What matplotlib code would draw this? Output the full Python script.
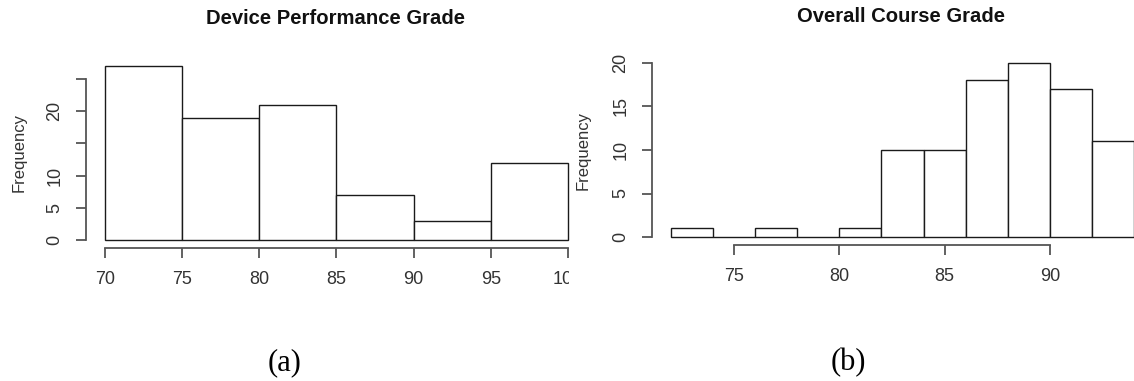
import numpy as np
import matplotlib
matplotlib.use("Agg")
import matplotlib.pyplot as plt
from matplotlib.patches import Rectangle

plt.rcParams["font.family"] = ["Liberation Sans", "DejaVu Sans"]

# (a) device performance grade histogram
device_edges = [70, 75, 80, 85, 90, 95, 100]
device_counts = [27, 19, 21, 7, 3, 12]
device_xticks = [70, 75, 80, 85, 90, 95, 100]
device_yticks = [0, 5, 10, 15, 20, 25]
device_ylabels = ["0", "5", "10", "", "20", ""]

# (b) overall course grade histogram
course_edges = [72, 74, 76, 78, 80, 82, 84, 86, 88, 90, 92, 94]
course_counts = [1, 0, 1, 0, 1, 10, 10, 18, 20, 17, 11]
course_xticks = [75, 80, 85, 90]
course_yticks = [0, 5, 10, 15, 20]

W, H = 1134, 381
fig = plt.figure(figsize=(W / 100, H / 100), dpi=100)

BAR_EDGE = "#1a1a1a"
AXIS_COL = "#555555"
TEXT_COL = "#333333"


def px_axes(left, top, width, height):
    # rectangle given in pixels from the top-left corner
    return fig.add_axes([left / W, (H - top - height) / H, width / W, height / H])


def r_style(ax, xticks, yticks, ylabels):
    for s in ["top", "right"]:
        ax.spines[s].set_visible(False)
    ax.spines["left"].set_position(("outward", 13.7))
    ax.spines["bottom"].set_position(("outward", 5.8))
    ax.spines["left"].set_bounds(yticks[0], yticks[-1])
    ax.spines["bottom"].set_bounds(xticks[0], xticks[-1])
    for s in ["left", "bottom"]:
        ax.spines[s].set_color(AXIS_COL)
        ax.spines[s].set_linewidth(1.3)
    ax.set_xticks(xticks)
    ax.set_xticklabels([str(t) for t in xticks])
    ax.set_yticks(yticks)
    ax.set_yticklabels(ylabels, rotation=90, va="center")
    ax.tick_params(length=7.2, width=1.3, color=AXIS_COL, labelcolor=TEXT_COL,
                   labelsize=13, pad=9)
    ax.set_ylabel("Frequency", fontsize=12, color=TEXT_COL)
    ax.set_facecolor("none")


def hist(ax, edges, counts):
    edges = np.asarray(edges)
    ax.bar(edges[:-1], counts, width=np.diff(edges), align="edge",
           facecolor="white", edgecolor=BAR_EDGE, linewidth=1.0, clip_on=False)


# left panel
ax1 = px_axes(105, 66, 463, 174)
hist(ax1, device_edges, device_counts)
ax1.set_xlim(70, 100)
ax1.set_ylim(0, 27)
r_style(ax1, device_xticks, device_yticks, device_ylabels)
ax1.yaxis.set_label_coords(-0.17, 0.5)
fig.text(336 / W, 1 - 19 / H, "Device Performance Grade", ha="center", va="center",
         fontsize=14.6, fontweight="bold", color="#111111")

# the left picture is cropped just after 100
fig.add_artist(Rectangle((569 / W, 0.2), 18 / W, 0.15, transform=fig.transFigure,
                         facecolor="white", edgecolor="none", zorder=1))

# right panel
ax2 = px_axes(671, 63, 463, 174)
ax2.set_zorder(2)
hist(ax2, course_edges, course_counts)
ax2.set_xlim(72, 94)
ax2.set_ylim(0, 20)
r_style(ax2, course_xticks, course_yticks, [str(t) for t in course_yticks])
ax2.yaxis.set_label_coords(-0.173, 0.5)
fig.text(901 / W, 1 - 16 / H, "Overall Course Grade", ha="center", va="center",
         fontsize=14.6, fontweight="bold", color="#111111")

# captions
for x, cap in [(285, "(a)"), (848, "(b)")]:
    fig.text(x / W, 1 - 363 / H, cap, ha="center", va="center",
             fontsize=22, family=["Liberation Serif", "DejaVu Serif"], color="black")

fig.savefig("out.png", dpi=100, facecolor="white")
